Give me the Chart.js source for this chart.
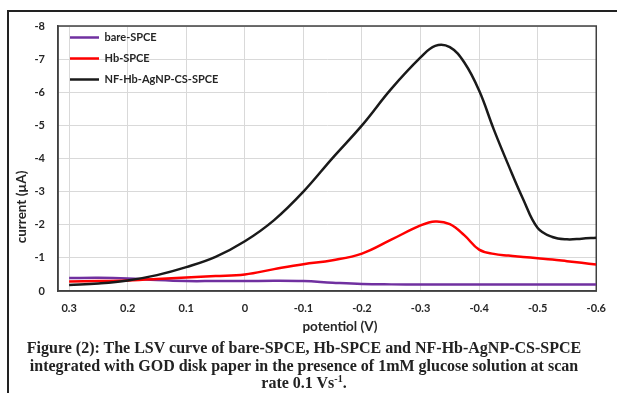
<!DOCTYPE html>
<html><head><meta charset="utf-8">
<script src="https://cdn.jsdelivr.net/npm/chart.js@4/dist/chart.umd.min.js"></script>
<style>
html,body{margin:0;padding:0;background:#fff;}
#wrap{position:relative;width:617px;height:393px;overflow:hidden;}
#frame{position:absolute;left:7px;top:10px;width:620px;height:400px;border-top:2px solid #222;border-left:2px solid #222;box-sizing:border-box;}
canvas{position:absolute;left:0;top:0;}
#cap{position:absolute;left:0;width:608px;top:339px;text-align:center;font-family:"Liberation Serif";font-weight:bold;font-size:16px;line-height:17.5px;color:#222;}
#cap sup{font-size:10px;line-height:0;vertical-align:6px;}
</style></head>
<body>
<div id="wrap">
<canvas id="c" width="617" height="393"></canvas>
<div id="frame"></div>
<div id="cap">Figure (2): The LSV curve of bare-SPCE, Hb-SPCE and NF-Hb-AgNP-CS-SPCE<br>integrated with GOD disk paper in the presence of 1mM glucose solution at scan<br>rate 0.1 Vs<sup>-1</sup>.</div>
</div>
<script>
const seriesNames = ['bare-SPCE', 'Hb-SPCE', 'NF-Hb-AgNP-CS-SPCE'];
const potentials = [0.3, 0.25, 0.2, 0.15, 0.1, 0.05, 0, -0.05, -0.1, -0.15, -0.2, -0.25, -0.3, -0.325, -0.35, -0.375, -0.4, -0.425, -0.45, -0.475, -0.5, -0.525, -0.55, -0.575, -0.6];
const bareSPCE = [-0.39, -0.40, -0.38, -0.33, -0.30, -0.30, -0.30, -0.31, -0.30, -0.25, -0.21, -0.20, -0.20, -0.20, -0.20, -0.20, -0.20, -0.20, -0.20, -0.20, -0.20, -0.20, -0.20, -0.20, -0.20];
const hbSPCE = [-0.29, -0.30, -0.32, -0.36, -0.41, -0.45, -0.50, -0.66, -0.81, -0.93, -1.13, -1.55, -1.98, -2.10, -2.02, -1.68, -1.25, -1.12, -1.07, -1.03, -0.99, -0.95, -0.90, -0.85, -0.80];
const nfSPCE = [-0.18, -0.23, -0.32, -0.48, -0.72, -1.03, -1.50, -2.14, -3.00, -4.02, -5.00, -6.10, -7.05, -7.40, -7.36, -6.89, -6.05, -4.88, -3.80, -2.78, -1.90, -1.63, -1.56, -1.58, -1.61];
const xTickValues = [0.3, 0.2, 0.1, 0, -0.1, -0.2, -0.3, -0.4, -0.5, -0.6];
const xTickLabels = ['0.3', '0.2', '0.1', '0', '-0.1', '-0.2', '-0.3', '-0.4', '-0.5', '-0.6'];
const yTickValues = [0, -1, -2, -3, -4, -5, -6, -7, -8];
const yTickLabels = ['0', '-1', '-2', '-3', '-4', '-5', '-6', '-7', '-8'];
const xTitle = 'potentiol (V)';
const yTitle = 'current (\u00B5A)';
const colors = ['#7030A0', '#FF0000', '#1A1A1A'];

const pts = vals => potentials.map((p, i) => ({x: p, y: vals[i]}));
const ds = (i, vals, order) => ({
  label: seriesNames[i], data: pts(vals), order,
  borderColor: colors[i], backgroundColor: colors[i],
  pointBorderColor: colors[i], pointBackgroundColor: colors[i], pointBorderWidth: 2.5
});

const frameAndTitles = {
  id: 'frameAndTitles',
  afterLayout(chart) {
    chart.legend.top = chart.chartArea.top - 4;
    chart.legend.left = chart.chartArea.left + 2;
  },
  beforeDatasetsDraw(chart) {
    const {ctx, chartArea: a} = chart;
    ctx.save();
    ctx.strokeStyle = '#404040';
    ctx.lineWidth = 1.5;
    ctx.strokeRect(a.left, a.top, a.right - a.left, a.bottom - a.top);
    ctx.restore();
  },
  afterDraw(chart) {
    const {ctx} = chart;
    ctx.save();
    ctx.fillStyle = '#262626';
    ctx.font = 'bold 13.5px Lato';
    ctx.textAlign = 'center';
    ctx.textBaseline = 'middle';
    ctx.fillText(xTitle, 340, 327);
    ctx.translate(22, 207);
    ctx.rotate(-Math.PI / 2);
    ctx.fillText(yTitle, 0, 0);
    ctx.restore();
  }
};

new Chart(document.getElementById('c'), {
  type: 'line',
  data: {
    datasets: [ds(0, bareSPCE, 3), ds(1, hbSPCE, 2), ds(2, nfSPCE, 1)]
  },
  options: {
    responsive: false,
    animation: false,
    devicePixelRatio: 1,
    layout: {padding: {left: 0, top: 26, right: 14, bottom: 0}},
    elements: {
      line: {borderWidth: 2.5, tension: 0.4},
      point: {radius: 0, pointStyle: 'line'}
    },
    scales: {
      x: {
        type: 'linear', reverse: true, min: -0.6, max: 0.319,
        afterBuildTicks: s => { s.ticks = xTickValues.map(v => ({value: v})); },
        afterFit: s => { s.height = 102; },
        grid: {color: '#d9d9d9', lineWidth: 1, drawTicks: false},
        border: {display: true, color: '#404040', width: 1.5},
        ticks: {padding: 11, color: '#262626', font: {family: 'Lato', weight: 'bold', size: 11}, maxRotation: 0,
          callback: (v, i) => xTickLabels[i]}
      },
      y: {
        type: 'linear', reverse: true, min: -8, max: 0,
        afterBuildTicks: s => { s.ticks = yTickValues.map(v => ({value: v})); },
        afterFit: s => { s.width = 58; },
        grid: {color: '#d9d9d9', lineWidth: 1, drawTicks: false},
        border: {display: true, color: '#404040', width: 1.5},
        ticks: {padding: 13, color: '#262626', font: {family: 'Lato', weight: 'bold', size: 11},
          callback: (v, i) => yTickLabels[i]}
      }
    },
    plugins: {
      legend: {
        position: 'chartArea', align: 'start',
        labels: {usePointStyle: true, pointStyle: 'line', pointStyleWidth: 29, padding: 10, color: '#262626',
          font: {family: 'Lato', weight: 'bold', size: 11},
          sort: (a, b) => a.datasetIndex - b.datasetIndex}
      },
      tooltip: {enabled: false}
    }
  },
  plugins: [frameAndTitles]
});
</script>
</body></html>
